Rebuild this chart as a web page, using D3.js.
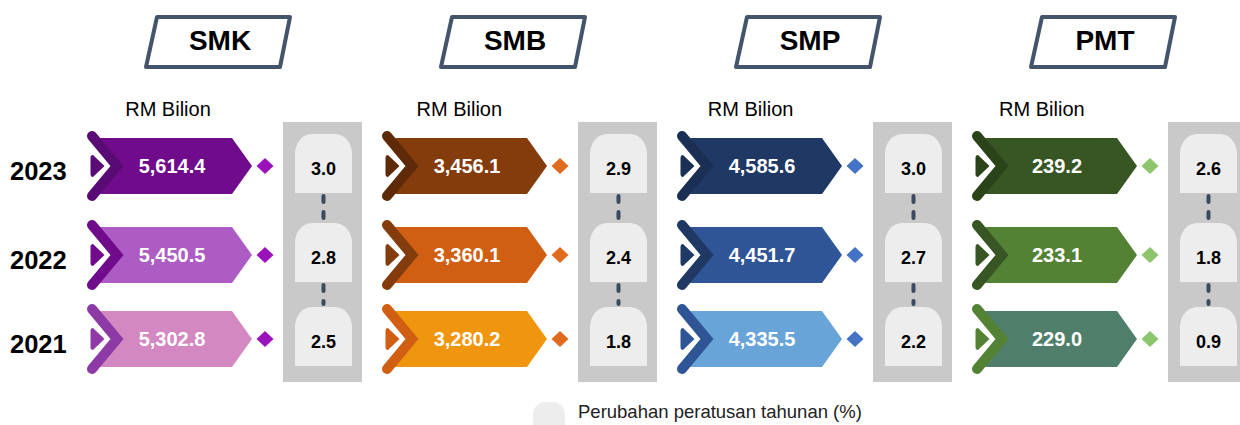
<!DOCTYPE html>
<html>
<head>
<meta charset="utf-8">
<script src="https://cdn.jsdelivr.net/npm/d3@7/dist/d3.min.js"></script>
<style>
  html, body { margin: 0; padding: 0; background: #ffffff; }
  svg { display: block; font-family: "Liberation Sans", Arial, sans-serif; }
</style>
</head>
<body>
<svg id="chart" width="1240" height="425"></svg>
<script>
// ---- Data ----
const sectors = ["SMK", "SMB", "SMP", "PMT"];
const years = ["2023", "2022", "2021"];
const valuesSMK = [5614.4, 5450.5, 5302.8];
const valuesSMB = [3456.1, 3360.1, 3280.2];
const valuesSMP = [4585.6, 4451.7, 4335.5];
const valuesPMT = [239.2, 233.1, 229.0];
const growthSMK = [3.0, 2.8, 2.5];
const growthSMB = [2.9, 2.4, 1.8];
const growthSMP = [3.0, 2.7, 2.2];
const growthPMT = [2.6, 1.8, 0.9];
const unitLabel = "RM Bilion";
const legendLabel = "Perubahan peratusan tahunan (%)";

const values = { SMK: valuesSMK, SMB: valuesSMB, SMP: valuesSMP, PMT: valuesPMT };
const growth = { SMK: growthSMK, SMB: growthSMB, SMP: growthSMP, PMT: growthPMT };

// ---- Styles ----
const palette = {
  SMK: { bars: ["#700b8c", "#ad5cc4", "#d388c2"], chev: ["#5a0a74", "#700b8c", "#8e3aa6"], diamond: "#9a12ba" },
  SMB: { bars: ["#843c0c", "#d05f14", "#f0960e"], chev: ["#5f2a08", "#843c0c", "#d05f14"], diamond: "#e06b1e" },
  SMP: { bars: ["#203864", "#2f5597", "#68a4d8"], chev: ["#1b2f55", "#203864", "#2f5597"], diamond: "#4472c4" },
  PMT: { bars: ["#375623", "#548235", "#4f7f6b"], chev: ["#2a4319", "#375623", "#548235"], diamond: "#8cc56c" }
};
const headerStroke = "#44546a";
const colGray = "#c9c9c9";
const pillFill = "#ededed";

const svg = d3.select("#chart");
const fmt = d3.format(",.1f");
const fmtG = d3.format(".1f");

const xPanel = d3.scalePoint().domain(sectors).range([0, 885]);
const yRow = d3.scaleOrdinal().domain(years).range([166, 255, 339]);

// year labels
svg.selectAll("text.year").data(years).enter().append("text")
  .attr("class", "year")
  .attr("x", 10)
  .attr("y", d => yRow(d) + 14)
  .attr("font-size", 25.5).attr("font-weight", "bold").attr("fill", "#000")
  .text(d => d);

function pillPath(x, top, w, bottom, rx, ry) {
  return `M${x},${bottom} L${x},${top + ry} A${rx},${ry} 0 0 1 ${x + rx},${top} L${x + w - rx},${top} A${rx},${ry} 0 0 1 ${x + w},${top + ry} L${x + w},${bottom} Z`;
}

sectors.forEach((s, si) => {
  const ox = xPanel(s);
  const g = svg.append("g").attr("transform", `translate(${ox},0)`);
  const pal = palette[s];

  // header parallelogram
  g.append("path")
    .attr("d", "M157,17 L290,17 L280,67 L146,67 Z")
    .attr("fill", "#fff").attr("stroke", headerStroke)
    .attr("stroke-width", 4).attr("stroke-linejoin", "round");
  g.append("text")
    .attr("x", 220).attr("y", 50)
    .attr("text-anchor", "middle")
    .attr("font-size", 28).attr("font-weight", "bold").attr("fill", "#000")
    .text(s);

  // unit label
  g.append("text")
    .attr("x", 168 - si * 3.7).attr("y", 116)
    .attr("text-anchor", "middle")
    .attr("font-size", 20).attr("fill", "#000")
    .text(unitLabel);

  // grey column
  g.append("rect")
    .attr("x", 283).attr("y", 122).attr("width", 79).attr("height", 260)
    .attr("fill", colGray);

  const rows = years.map((y, i) => ({ year: y, value: values[s][i], g: growth[s][i], i }));

  // connectors between pills
  for (let i = 0; i < rows.length - 1; i++) {
    const y1 = yRow(rows[i].year) + 30;
    const y2 = yRow(rows[i + 1].year) - 35;
    g.append("line")
      .attr("x1", 323.5).attr("x2", 323.5)
      .attr("y1", y1).attr("y2", y2)
      .attr("stroke", "#3a4a60").attr("stroke-width", 4)
      .attr("stroke-linecap", "round")
      .attr("stroke-dasharray", "6,10");
  }

  rows.forEach(r => {
    const cy = yRow(r.year);
    const top = cy - 28, bot = cy + 28;
    // bar
    g.append("path")
      .attr("d", `M100,${top} L232,${top} L252,${cy} L232,${bot} L100,${bot} L116,${cy} Z`)
      .attr("fill", pal.bars[r.i]);
    // chevron
    g.append("path")
      .attr("d", `M92,${cy - 30} L117,${cy} L92,${cy + 30}`)
      .attr("fill", "none").attr("stroke", pal.chev[r.i])
      .attr("stroke-width", 10).attr("stroke-linecap", "round")
      .attr("stroke-linejoin", "miter");
    // play triangle
    g.append("path")
      .attr("d", `M93,${cy - 11} L104.5,${cy} L93,${cy + 11} Q90.5,${cy + 11} 90.5,${cy + 8} L90.5,${cy - 8} Q90.5,${cy - 11} 93,${cy - 11} Z`)
      .attr("fill", pal.chev[r.i]);
    // value text
    g.append("text")
      .attr("x", 172).attr("y", cy)
      .attr("dy", "0.36em")
      .attr("text-anchor", "middle")
      .attr("font-size", 20).attr("font-weight", "bold").attr("fill", "#fff")
      .text(fmt(r.value));
    // diamond
    g.append("path")
      .attr("d", `M265,${cy - 8} L273.5,${cy} L265,${cy + 8} L256.5,${cy} Z`)
      .attr("fill", pal.diamond);
    // pill
    g.append("path")
      .attr("d", pillPath(295, cy - 32, 57, cy + 27, 17, 20))
      .attr("fill", pillFill);
    g.append("text")
      .attr("x", 323.5).attr("y", cy + 3)
      .attr("dy", "0.36em")
      .attr("text-anchor", "middle")
      .attr("font-size", 18).attr("font-weight", "bold").attr("fill", "#000")
      .text(fmtG(r.g));
  });
});

// legend
svg.append("path")
  .attr("d", pillPath(533, 402, 32, 440, 12, 13))
  .attr("fill", pillFill);
svg.append("text")
  .attr("x", 578).attr("y", 418)
  .attr("font-size", 18.5).attr("fill", "#222")
  .text(legendLabel);
</script>
</body>
</html>
